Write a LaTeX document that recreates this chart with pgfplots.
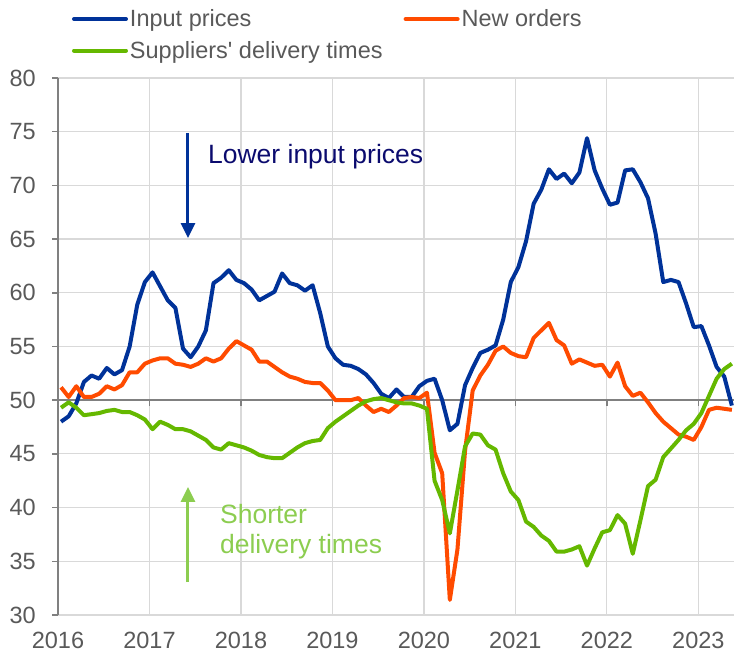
\documentclass[border=0pt]{standalone}
\usepackage{fontspec}
\setmainfont{Liberation Sans}
\usepackage{pgfplots}
\pgfplotsset{compat=1.18}
\usepackage{pgfplotstable}
\usetikzlibrary{arrows.meta}
\definecolor{blueS}{HTML}{003299}
\definecolor{orangeS}{HTML}{FF4B00}
\definecolor{greenS}{HTML}{65B800}
\definecolor{navytext}{HTML}{0B0B6E}
\definecolor{lightgreen}{HTML}{8CCD50}
\definecolor{axisgray}{HTML}{808080}
\definecolor{gridgray}{HTML}{D9D9D9}
\definecolor{labelgray}{HTML}{595959}

\pgfplotstableread{
i blue orange green
0 48.0 51.2 49.3
1 48.5 50.3 49.8
2 49.7 51.3 49.3
3 51.7 50.3 48.6
4 52.3 50.3 48.7
5 52.0 50.6 48.8
6 53.0 51.3 49.0
7 52.4 51.0 49.1
8 52.8 51.4 48.9
9 55.0 52.6 48.9
10 58.9 52.6 48.6
11 61.0 53.4 48.2
12 61.9 53.7 47.3
13 60.6 53.9 48.0
14 59.3 53.9 47.7
15 58.6 53.4 47.3
16 54.8 53.3 47.3
17 54.0 53.1 47.1
18 55.0 53.4 46.7
19 56.5 53.9 46.3
20 60.9 53.6 45.6
21 61.4 53.9 45.4
22 62.1 54.8 46.0
23 61.2 55.5 45.8
24 60.9 55.1 45.6
25 60.3 54.7 45.3
26 59.3 53.6 44.9
27 59.7 53.6 44.7
28 60.1 53.1 44.6
29 61.8 52.6 44.6
30 60.9 52.2 45.1
31 60.7 52.0 45.6
32 60.2 51.7 46.0
33 60.7 51.6 46.2
34 58.1 51.6 46.3
35 55.0 50.9 47.4
36 53.9 50.0 48.0
37 53.3 50.0 48.5
38 53.2 50.0 49.0
39 52.9 50.2 49.5
40 52.4 49.5 49.9
41 51.6 48.9 50.1
42 50.6 49.2 50.2
43 50.2 48.9 50.0
44 51.0 49.5 49.8
45 50.3 50.2 49.7
46 50.3 50.3 49.7
47 51.3 50.2 49.5
48 51.8 50.7 49.2
49 52.0 45.1 42.5
50 50.0 43.2 40.7
51 47.2 31.4 37.6
52 47.8 36.1 41.6
53 51.4 45.3 45.7
54 53.0 50.9 46.9
55 54.4 52.3 46.8
56 54.7 53.3 45.8
57 55.1 54.6 45.4
58 57.5 55.0 43.2
59 61.0 54.4 41.5
60 62.4 54.1 40.7
61 64.8 54.0 38.7
62 68.3 55.8 38.2
63 69.6 56.5 37.4
64 71.5 57.2 36.9
65 70.6 55.6 35.9
66 71.1 55.1 35.9
67 70.2 53.4 36.1
68 71.2 53.8 36.4
69 74.4 53.5 34.6
70 71.4 53.2 36.2
71 69.7 53.3 37.7
72 68.2 52.2 37.9
73 68.4 53.5 39.3
74 71.4 51.3 38.5
75 71.5 50.4 35.7
76 70.3 50.7 38.8
77 68.8 49.8 42.0
78 65.5 48.8 42.6
79 61.0 48.0 44.7
80 61.2 47.4 45.5
81 61.0 46.8 46.3
82 59.0 46.6 47.2
83 56.8 46.3 47.8
84 56.9 47.5 48.8
85 55.1 49.1 50.4
86 53.1 49.3 52.0
87 52.2 49.2 52.9
88 49.5 49.1 53.4
}\data

\begin{document}
\begin{tikzpicture}
\useasboundingbox (0,0) rectangle (734pt,656pt);
\begin{axis}[
  at={(58pt,41pt)}, anchor=south west,
  scale only axis, width=676pt, height=537pt,
  xmin=2016, xmax=2023.39, ymin=30, ymax=80,
  xtick={2016,2017,2018,2019,2020,2021,2022,2023},
  xticklabels={2016,2017,2018,2019,2020,2021,2022,2023},
  ytick={30,35,40,45,50,55,60,65,70,75,80},
  axis y line*=left, axis x line*=bottom,
  x axis line style={draw=none},
  y axis line style={draw=axisgray, line width=1.8pt, -},
  xtick style={draw=none},
  ytick style={draw=axisgray, line width=1.5pt},
  tick align=outside, major tick length=6pt,
  grid=major, major grid style={draw=gridgray, line width=1.2pt},
  ticklabel style={font=\fontsize{23.5pt}{28pt}\selectfont, text=labelgray, inner sep=0pt},
  /pgf/number format/assume math mode=true,
  xticklabel style={yshift=-11pt},
  yticklabel style={xshift=-16pt},
  legend columns=2, legend cell align=left,
  legend style={at={(0.0207,1.127)}, anchor=north west, draw=none, fill=none,
    inner sep=0pt, outer sep=0pt, row sep=13pt,
    font=\fontsize{23.5pt}{28pt}\selectfont, text=labelgray,
    nodes={inner sep=0pt},
    /tikz/every odd column/.append style={column sep=2pt},
    /tikz/every even column/.append style={column sep=21pt}},
  legend image code/.code={\draw[#1, line cap=round] (0pt,0pt) -- (52pt,0pt);},
]
\draw[axisgray, line width=1.8pt] (axis cs:2016,50) -- (axis cs:2023.39,50);
\pgfplotsinvokeforeach{2017,2018,2019,2020,2021,2022,2023}{
  \draw[axisgray, line width=1.5pt] (axis cs:#1,50) -- ++(0pt,-6pt);
}
\addplot[blueS, line width=4pt, line join=round] table[x expr={2016+(\thisrow{i}+0.4)/12}, y=blue]{\data};
\addlegendentry{Input prices}
\addplot[orangeS, line width=4pt, line join=round] table[x expr={2016+(\thisrow{i}+0.4)/12}, y=orange]{\data};
\addlegendentry{New orders}
\addplot[greenS, line width=4pt, line join=round] table[x expr={2016+(\thisrow{i}+0.4)/12}, y=green]{\data};
\addlegendentry{Suppliers\textquotesingle\ delivery times}

\draw[blueS, line width=3pt, -{Triangle[length=15pt,width=14pt]}] (axis cs:2017.421,74.88) -- (axis cs:2017.421,65.10);
\node[anchor=base west, inner sep=0pt, text=navytext, font=\fontsize{26.5pt}{31pt}\selectfont] at (axis cs:2017.639,72.06) {Lower input prices};
\draw[lightgreen, line width=3pt, -{Triangle[length=15pt,width=14pt]}] (axis cs:2017.421,33.07) -- (axis cs:2017.421,41.92);
\node[anchor=base west, inner sep=0pt, text=lightgreen, font=\fontsize{26.5pt}{31pt}\selectfont] at (axis cs:2017.770,38.54) {Shorter};
\node[anchor=base west, inner sep=0pt, text=lightgreen, font=\fontsize{26.5pt}{31pt}\selectfont] at (axis cs:2017.770,35.68) {delivery times};
\end{axis}
\end{tikzpicture}
\end{document}
